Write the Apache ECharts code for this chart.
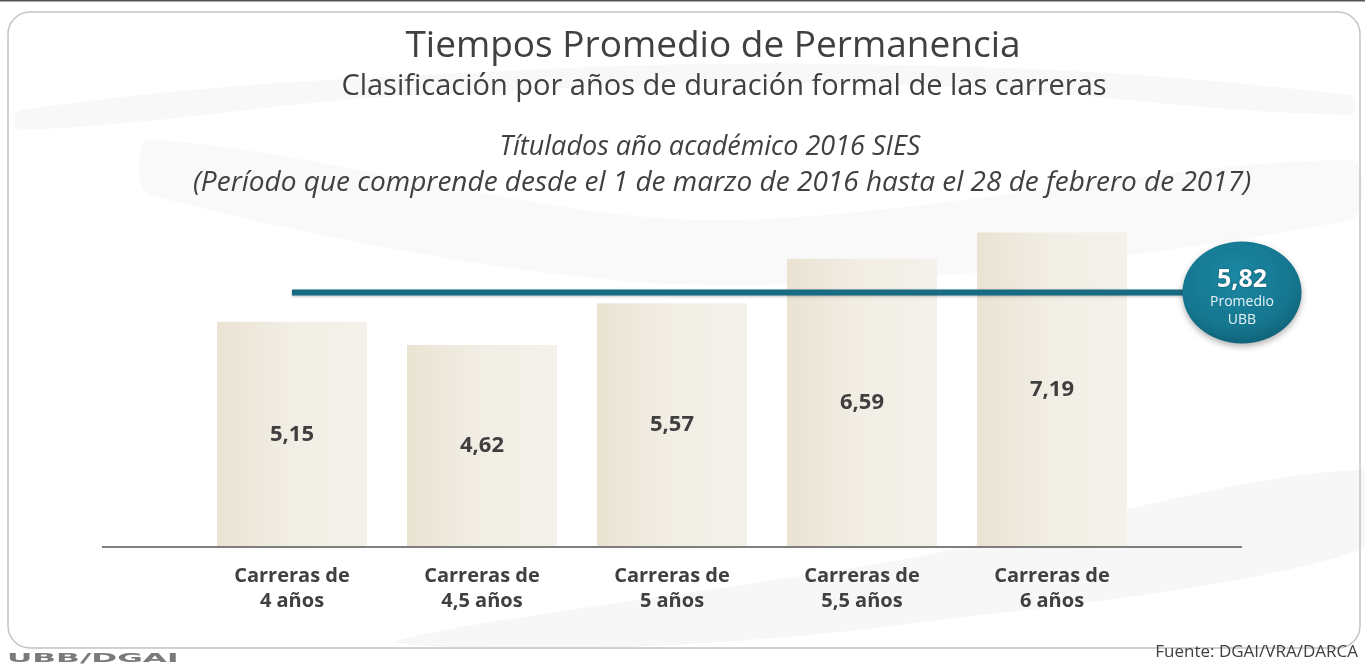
<!DOCTYPE html>
<html>
<head>
<meta charset="utf-8">
<title>Tiempos Promedio de Permanencia</title>
<script src="https://cdn.jsdelivr.net/npm/echarts@6/dist/echarts.min.js"></script>
<style>
  html, body { margin: 0; padding: 0; background: #fff; }
  #chart { width: 1365px; height: 665px; }
</style>
</head>
<body>
<div id="chart"></div>
<script>
// datos
const categories = ['Carreras de\n4 años', 'Carreras de\n4,5 años', 'Carreras de\n5 años', 'Carreras de\n5,5 años', 'Carreras de\n6 años', ''];
const tiempos = [5.15, 4.62, 5.57, 6.59, 7.19];
const promedio = 5.82;
// posiciones en unidades de categoría (centro de la categoría i = i + 0.5)
const promedioTramo = [0.5, 5.5];
const ejeTramo = [-0.5, 5.5];

const fmt = v => v.toFixed(2).replace('.', ',');
const font = '"Open Sans", "Noto Sans", sans-serif';

const chart = echarts.init(document.getElementById('chart'));

const option = {
  backgroundColor: '#ffffff',
  animation: false,
  textStyle: { fontFamily: font },
  title: [
    {
      text: 'Tiempos Promedio de Permanencia',
      left: 713, top: 28, textAlign: 'center', padding: 0,
      textStyle: { fontSize: 37, fontWeight: 'normal', color: '#404040', fontFamily: font }
    },
    {
      text: 'Clasificación por años de duración formal de las carreras',
      left: 724, top: 72, textAlign: 'center', padding: 0,
      textStyle: { fontSize: 29, fontWeight: 'normal', color: '#404040', fontFamily: font }
    },
    {
      text: 'Títulados año académico 2016 SIES',
      left: 710, top: 134, textAlign: 'center', padding: 0,
      textStyle: { fontSize: 27, fontWeight: 'normal', fontStyle: 'italic', color: '#404040', fontFamily: font }
    },
    {
      text: '(Período que comprende desde el 1 de marzo de 2016 hasta el 28 de febrero de 2017)',
      left: 722, top: 169, textAlign: 'center', padding: 0,
      textStyle: { fontSize: 28, fontWeight: 'normal', fontStyle: 'italic', color: '#404040', fontFamily: font }
    }
  ],
  graphic: [
    {
      type: 'rect', z: -10, silent: true,
      shape: { x: 8, y: 12, width: 1352, height: 636, r: 22 },
      style: { fill: 'none', stroke: '#c4c4c4', lineWidth: 1.5 }
    },
    {
      type: 'line', silent: true,
      shape: { x1: 0, y1: 0.5, x2: 1365, y2: 0.5 },
      style: { stroke: '#555', lineWidth: 2 }
    },
    {
      type: 'polygon', z: -20, silent: true,
      shape: { points: [[20, 110], [420, 75], [900, 65], [1350, 95], [1350, 115], [900, 85], [420, 95], [20, 130]], smooth: 0.4 },
      style: { fill: 'rgba(225,225,225,0.22)' }
    },
    {
      type: 'polygon', z: -20, silent: true,
      shape: { points: [[150, 140], [700, 220], [1350, 160], [1350, 220], [700, 285], [150, 195]], smooth: 0.3 },
      style: { fill: 'rgba(225,225,225,0.2)' }
    },
    {
      type: 'polygon', z: -20, silent: true,
      shape: { points: [[400, 640], [900, 560], [1360, 470], [1360, 550], [900, 625], [600, 648]], smooth: 0.3 },
      style: { fill: 'rgba(225,225,225,0.25)' }
    },
    {
      type: 'text', silent: true,
      x: 7, y: 659, scaleX: 2.4,
      style: { text: 'UBB/DGAI', fontSize: 13, fontWeight: 'bold', fill: '#7a7a7a', fontFamily: '"DejaVu Sans", sans-serif', verticalAlign: 'middle' }
    },
    {
      type: 'text', silent: true,
      x: 1358, y: 652,
      style: { text: 'Fuente: DGAI/VRA/DARCA', fontSize: 17, fill: '#404040', fontFamily: font, align: 'right', verticalAlign: 'middle' }
    }
  ],
  grid: [
    { left: 197, right: 28, top: 197, bottom: 118 },
    // misma escala, desplazada una categoría a la izquierda para línea base y promedio
    { left: 7, right: 28, top: 197, bottom: 118 }
  ],
  xAxis: [
    {
      type: 'category',
      gridIndex: 0,
      data: categories,
      axisLine: { show: false },
      axisTick: { show: false },
      axisLabel: {
        margin: 17, interval: 0, color: '#404040', fontSize: 20, fontWeight: 'bold',
        lineHeight: 25, fontFamily: font
      }
    },
    { type: 'value', gridIndex: 1, min: -1, max: 6, show: false }
  ],
  yAxis: [
    { type: 'value', gridIndex: 0, min: 0, max: 8, show: false },
    { type: 'value', gridIndex: 1, min: 0, max: 8, show: false }
  ],
  series: [
    {
      type: 'bar',
      data: tiempos,
      barWidth: 150,
      itemStyle: {
        color: new echarts.graphic.LinearGradient(0, 0, 1, 0, [
          { offset: 0, color: '#eae3d3' },
          { offset: 0.5, color: '#f2eee5' },
          { offset: 1, color: '#f4f1ea' }
        ])
      },
      label: {
        show: true, position: 'inside', formatter: p => fmt(p.value),
        fontSize: 22, fontWeight: 'bold', color: '#3f3f3f', fontFamily: font
      },
      z: 2
    },
    {
      type: 'line',
      xAxisIndex: 1, yAxisIndex: 1,
      data: ejeTramo.map(x => [x, 0]),
      symbol: 'none',
      lineStyle: { color: '#7f7f7f', width: 2 },
      z: 3
    },
    {
      type: 'line',
      xAxisIndex: 1, yAxisIndex: 1,
      data: promedioTramo.map(x => [x, promedio]),
      symbol: 'none',
      lineStyle: { color: '#176b83', width: 6, shadowColor: 'rgba(0,0,0,0.25)', shadowBlur: 3, shadowOffsetY: 1 },
      z: 4
    },
    {
      type: 'scatter',
      xAxisIndex: 1, yAxisIndex: 1,
      data: [[promedioTramo[1], promedio]],
      symbol: 'circle',
      symbolSize: [119, 102],
      clip: false,
      itemStyle: {
        opacity: 1,
        color: new echarts.graphic.RadialGradient(0.45, 0.35, 0.75, [
          { offset: 0, color: '#1c88a3' },
          { offset: 0.65, color: '#15768f' },
          { offset: 1, color: '#0d5a6d' }
        ]),
        shadowColor: 'rgba(0,0,0,0.3)', shadowBlur: 6, shadowOffsetY: 3
      },
      label: {
        show: true, position: 'inside', offset: [0, 5],
        formatter: () => '{v|' + fmt(promedio) + '}\n{t|Promedio}\n{t|UBB}',
        rich: {
          v: { fontSize: 25, fontWeight: 'bold', color: '#ffffff', lineHeight: 28, fontFamily: font, textShadowColor: 'rgba(0,0,0,0.5)', textShadowBlur: 2 },
          t: { fontSize: 14, color: '#e8f4f7', lineHeight: 18, fontFamily: font }
        }
      },
      z: 5
    }
  ]
};

chart.setOption(option);
</script>
</body>
</html>
